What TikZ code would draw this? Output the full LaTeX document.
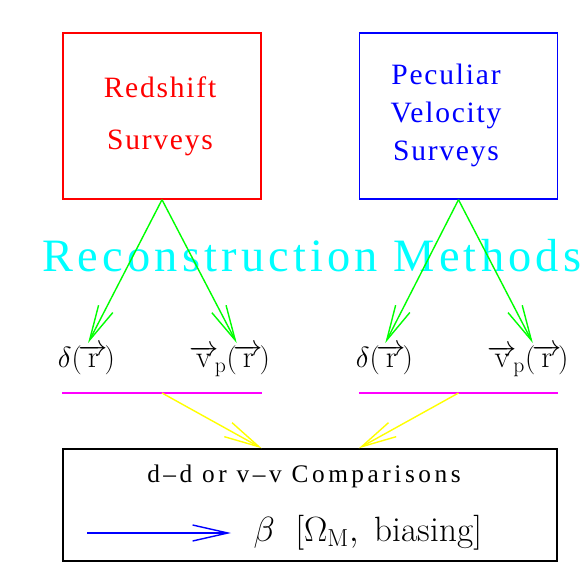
\documentclass[tikz,border=0pt]{standalone}
\usepackage{fontspec}
\usetikzlibrary{arrows.meta}
\newfontfamily\plotfont[LetterSpace=6]{Liberation Serif}
\newfontfamily\widefont[LetterSpace=14]{Liberation Serif}
\newfontfamily\titlefont[LetterSpace=9]{Liberation Serif}
\definecolor{SurvRed}{HTML}{FF0000}
\definecolor{SurvBlue}{HTML}{0000FF}
\definecolor{RecCyan}{HTML}{00FFFF}
\definecolor{RecGreen}{HTML}{00FF00}
\definecolor{SplitMagenta}{HTML}{FF00FF}
\definecolor{MergeYellow}{HTML}{FFFF00}

\begin{document}
\begin{tikzpicture}[x=0.025cm,y=-0.025cm,line width=1pt,
  flow/.style={line width=1pt,-{Straight Barb[length=0.88cm,width=0.4cm]}},
  survey/.style={minimum width=4.95cm,minimum height=4.15cm},
  field/.style={font=\fontsize{22}{26}\selectfont,inner sep=1pt,anchor=north}]
  \useasboundingbox (0,0) rectangle (588,588);

  % survey boxes
  \node[survey,draw=SurvRed] (redshift) at (162,116) {};
  \node[survey,draw=SurvBlue] (peculiar) at (458.5,116) {};
  \node[text=SurvRed,align=center,font=\plotfont\fontsize{21}{24}\selectfont] (redtext) at (160,116)
    {Redshift\\[13pt]Surveys};
  \node[text=SurvBlue,align=center,font=\plotfont\fontsize{21}{24}\selectfont] (pectext) at (446,115)
    {Peculiar\\[3pt]Velocity\\[3pt]Surveys};

  \node[text=RecCyan,font=\titlefont\fontsize{33}{36}\selectfont] (recon) at (312,256) {Reconstruction Methods};

  % reconstructed fields
  \node[field] (dred) at (86.5,343) {$\delta(\mkern-2mu\overrightarrow{\mathrm{r}}\mkern-2mu)$};
  \node[field] (vred) at (229.5,343) {$\overrightarrow{\mathrm{v}}_{\!\mathrm{p}}(\mkern-2mu\overrightarrow{\mathrm{r}}\mkern-2mu)$};
  \node[field] (dpec) at (384.5,343) {$\delta(\mkern-2mu\overrightarrow{\mathrm{r}}\mkern-2mu)$};
  \node[field] (vpec) at (528,343) {$\overrightarrow{\mathrm{v}}_{\!\mathrm{p}}(\mkern-2mu\overrightarrow{\mathrm{r}}\mkern-2mu)$};

  \draw[flow,draw=RecGreen] (redshift.south) -- ([xshift=0.04cm]dred.north);
  \draw[flow,draw=RecGreen] (redshift.south) -- ([xshift=0.18cm]vred.north);
  \draw[flow,draw=RecGreen] (peculiar.south) -- ([xshift=0.02cm]dpec.north);
  \draw[flow,draw=RecGreen] (peculiar.south) -- ([xshift=0.12cm]vpec.north);

  % comparison box
  \node[draw=black,minimum width=12.35cm,minimum height=2.8cm] (compare) at (310,505) {};
  \node[font=\widefont\fontsize{18}{20}\selectfont] (cmptitle) at (304,476) {d–d or v–v Comparisons};
  \node[font=\fontsize{25}{28}\selectfont,anchor=west,inner xsep=0.55cm] (beta) at (231,533)
    {$\beta\ \;[\Omega_{\mathrm{M}},\ \mathrm{biasing}]$};
  \coordinate (betastart) at (87,533);
  \draw[flow,draw=SurvBlue] (betastart) -- (beta.west);

  % merging
  \coordinate (redsplit) at (162,393);
  \coordinate (pecsplit) at (458.5,393);
  \draw[draw=SplitMagenta] (redshift.west |- redsplit) -- (redshift.east |- redsplit);
  \draw[draw=SplitMagenta] (peculiar.west |- pecsplit) -- (peculiar.east |- pecsplit);
  \draw[flow,draw=MergeYellow] (redsplit) -- (compare.north -| redshift.east);
  \draw[flow,draw=MergeYellow] (pecsplit) -- (compare.north -| peculiar.west);
\end{tikzpicture}
\end{document}
